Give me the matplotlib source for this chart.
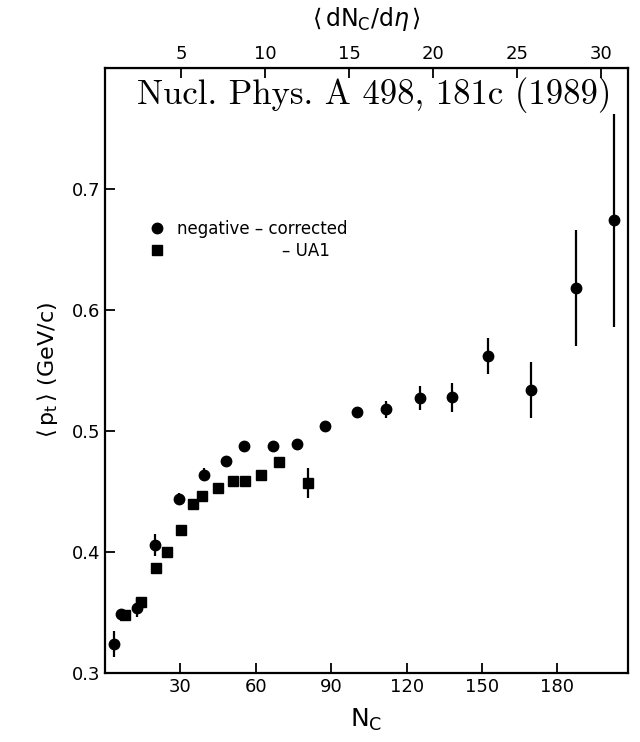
import numpy as np
import matplotlib.pyplot as plt
from matplotlib.ticker import FormatStrFormatter

# negative - corrected 数据（圆点）
neg_nc = [3.5, 6.5, 12.8, 19.8, 29.3, 39.2, 48.1, 55.5, 66.8, 76.3, 87.5,
          100.1, 111.7, 125.2, 138.1, 152.2, 169.4, 187.4, 202.3]
neg_pt = [0.324, 0.349, 0.354, 0.406, 0.444, 0.464, 0.475, 0.488, 0.488, 0.489, 0.504,
          0.516, 0.518, 0.527, 0.528, 0.562, 0.534, 0.618, 0.674]
neg_err = [0.011, 0.004, 0.008, 0.009, 0.005, 0.005, 0.004, 0.004, 0.004, 0.004, 0.004,
           0.004, 0.007, 0.010, 0.012, 0.015, 0.023, 0.048, 0.088]

# UA1 数据（方块）
ua1_nc = [8.0, 14.4, 20.5, 24.7, 30.3, 35.0, 38.6, 44.8, 50.8, 55.8, 62.0, 69.2, 80.9]
ua1_pt = [0.348, 0.359, 0.387, 0.400, 0.418, 0.440, 0.446, 0.453, 0.459, 0.459, 0.464, 0.474, 0.457]
ua1_err = [0.003, 0.003, 0.003, 0.003, 0.003, 0.003, 0.003, 0.003, 0.003, 0.004, 0.003, 0.003, 0.012]

# 坐标轴刻度
x_ticks = [30, 60, 90, 120, 150, 180]
y_ticks = [0.3, 0.4, 0.5, 0.6, 0.7]
top_ticks = [5, 10, 15, 20, 25, 30]

ref_text = 'Nucl. Phys. A 498, 181c (1989)'


def nc_to_dndeta(nc):
    """N_C 换算到 <dN_C/deta>（上方坐标轴）"""
    return (np.asarray(nc) + 3.1) / 6.68


def dndeta_to_nc(v):
    return np.asarray(v) * 6.68 - 3.1


def plot_pt_vs_nc():
    plt.rcParams['mathtext.fontset'] = 'dejavusans'

    fig = plt.figure(figsize=(6.4, 7.42), dpi=100)
    ax = fig.add_axes([0.164, 0.093, 0.817, 0.8154])

    # 误差棒
    ax.errorbar(neg_nc, neg_pt, yerr=neg_err, fmt='none', ecolor='black',
                elinewidth=1.6, capsize=0)
    ax.errorbar(ua1_nc, ua1_pt, yerr=ua1_err, fmt='none', ecolor='black',
                elinewidth=1.6, capsize=0)
    # 数据点
    ax.plot(neg_nc, neg_pt, 'o', color='black', ms=7.5, label='negative \u2013 corrected')
    ax.plot(ua1_nc, ua1_pt, 's', color='black', ms=7.5,
            label='                    \u2013 UA1')

    ax.set_xlim(0, 208)
    ax.set_ylim(0.3, 0.8)
    ax.set_xticks(x_ticks)
    ax.set_yticks(y_ticks)
    ax.yaxis.set_major_formatter(FormatStrFormatter('%.1f'))

    for sp in ax.spines.values():
        sp.set_linewidth(1.6)
    ax.tick_params(direction='in', length=7, width=1.3, labelsize=13,
                   top=False, right=False)

    # 上方坐标轴 <dN_C/deta>
    secax = ax.secondary_xaxis('top', functions=(nc_to_dndeta, dndeta_to_nc))
    secax.set_xticks(top_ticks)
    secax.tick_params(direction='in', length=7, width=1.3, labelsize=13)
    secax.set_xlabel(r'$\langle\,\mathrm{dN_C/d}\eta\,\rangle$', fontsize=17, labelpad=14)

    ax.set_xlabel(r'$\mathrm{N_C}$', fontsize=18, labelpad=8)
    ax.set_ylabel(r'$\langle\,\mathrm{p_t}\,\rangle$ (GeV/c)', fontsize=16, labelpad=8)

    # 图例
    ax.legend(loc='upper left', bbox_to_anchor=(0.0835, 0.749), frameon=False,
              fontsize=12, borderpad=0, borderaxespad=0, handlelength=1.0,
              handletextpad=0.7, labelspacing=0.25)

    # 文献标注
    ax.text(0.969, 0.955, ref_text, transform=ax.transAxes, ha='right', va='center',
            fontsize=25, family='cmr10')

    fig.savefig('out.png', dpi=100)


def main():
    plot_pt_vs_nc()


if __name__ == "__main__":
    main()
